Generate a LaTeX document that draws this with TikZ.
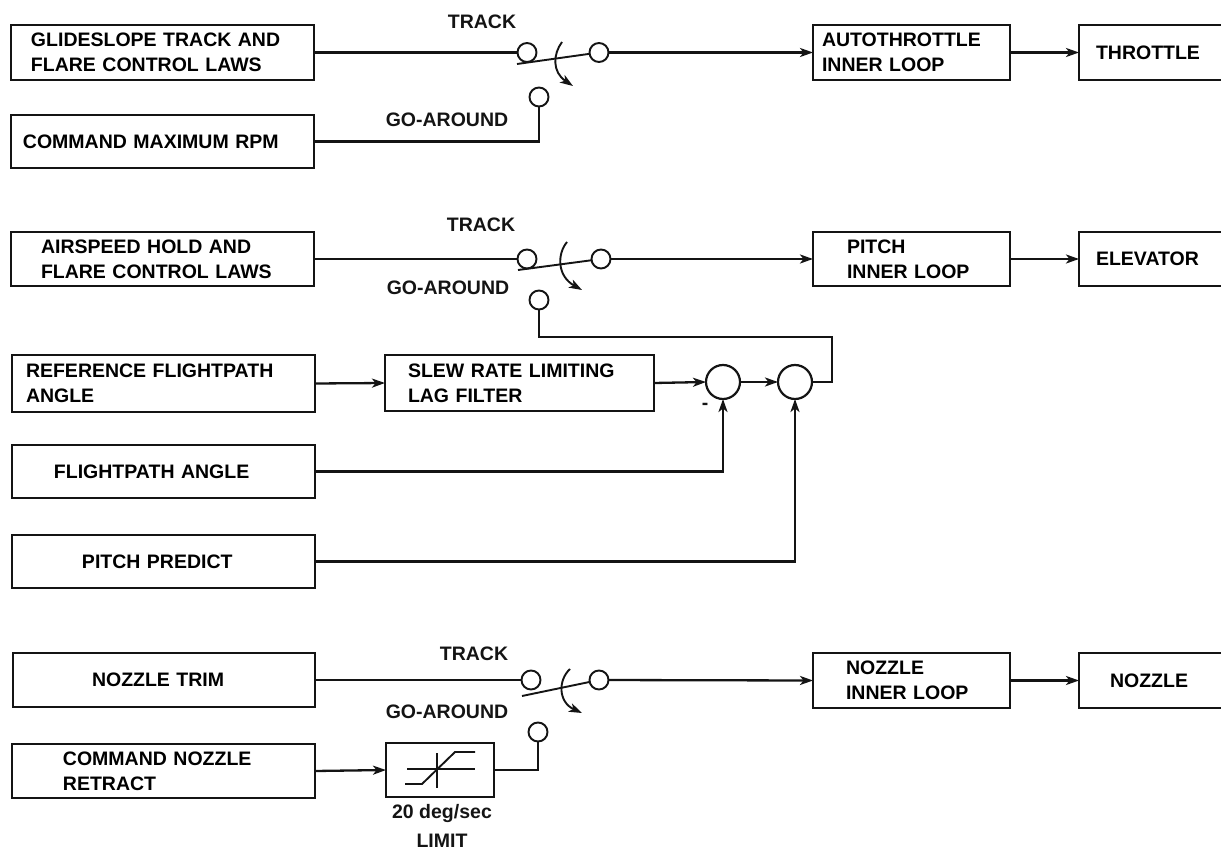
\documentclass[tikz,border=0pt]{standalone}
\usepackage{fontspec}
\setmainfont{Liberation Sans}
\usetikzlibrary{arrows.meta}
\tikzset{
  blk/.style={draw=ink,line width=1.9pt,inner sep=0pt,outer sep=0pt,anchor=north west,font=\lblfont},
  lbl/.style={inner sep=0pt,font=\lblfont,text=ink},
  cont/.style={circle,draw=ink,line width=1.9pt,inner sep=0pt,outer sep=0pt,minimum size=19pt},
  summer/.style={circle,draw=ink,line width=2.2pt,inner sep=0pt,outer sep=0pt,minimum size=34pt},
  wire/.style={draw=ink,line width=2.3pt},
  flow/.style={wire,-{Stealth[length=13pt,width=9pt,inset=3.5pt]}},
  blade/.style={draw=ink,line width=1.9pt},
  swing/.style={draw=ink,line width=1.9pt,-{Stealth[length=13pt,width=9pt,inset=3.5pt]}}
}
\definecolor{ink}{HTML}{141414}
\newcommand\lblfont{\fontsize{19.5}{25}\selectfont\bfseries}
\newcommand\bx[7]{%
  \pgfmathsetmacro\bw{#4-#2}\pgfmathsetmacro\bh{#5-#3}%
  \node[blk,minimum width=\bw pt,minimum height=\bh pt,text width=\bw pt] (#1) at (#2,#3)
    {\leftskip=#6pt\rightskip=0pt plus 1fil\parfillskip=0pt\relax #7\par};}
\begin{document}
\begin{tikzpicture}[x=1pt,y=-1pt]
\useasboundingbox (0,0) rectangle (1221,850);
% --- top group
\bx{glide}{11}{25}{314}{80}{20}{GLIDESLOPE TRACK AND\\FLARE CONTROL LAWS}
\bx{rpm}{11}{115}{314}{168}{12}{COMMAND MAXIMUM RPM}
\bx{auto}{813}{25}{1010}{80}{9}{AUTOTHROTTLE\\INNER LOOP}
\bx{throttle}{1079}{25}{1226}{80}{17}{THROTTLE}
\node[cont] (s1l) at (527,52.5) {};
\node[cont] (s1r) at (599,52.5) {};
\node[cont] (s1g) at (539,97) {};
\coordinate (b1) at (517,64);
\coordinate (t1) at (562,42);
\coordinate (e1) at (573,86);
\coordinate (k1) at (539,141.5);
\node[lbl] (track1) at (482,22) {TRACK};
\node[lbl] (ga1) at (447,120) {GO-AROUND};
\draw[wire] (glide.east) -- (s1l);
\draw[blade] (s1r) -- (b1);
\draw[swing] (t1) .. controls (553,54) and (552,72) .. (e1);
\draw[wire] (rpm.east) -- (k1) -- (s1g);
\draw[flow] (s1r) -- (auto.west);
\draw[flow] (auto.east) -- (throttle.west);
% --- middle group
\bx{air}{11}{232}{314}{286}{30}{AIRSPEED HOLD AND\\FLARE CONTROL LAWS}
\bx{pitchil}{813}{232}{1010}{286}{34}{PITCH\\INNER LOOP}
\bx{elev}{1079}{232}{1226}{286}{17}{ELEVATOR}
\bx{ref}{12}{355}{315}{412}{14}{REFERENCE FLIGHTPATH\\ANGLE}
\bx{slew}{385}{355}{654}{411}{23}{SLEW RATE LIMITING\\LAG FILTER}
\bx{fpa}{12}{445}{315}{498}{42}{FLIGHTPATH ANGLE}
\bx{pp}{12}{535}{315}{588}{70}{PITCH PREDICT}
\node[cont] (s2l) at (527,259) {};
\node[cont] (s2r) at (601,259) {};
\node[cont] (s2g) at (539,300) {};
\coordinate (b2) at (518,270);
\coordinate (t2) at (567,242);
\coordinate (e2) at (582,290);
\node[summer] (sum1) at (723,382) {};
\node[summer] (sum2) at (795,382) {};
\coordinate (k2) at (539,337);
\coordinate (k3) at (832,337);
\coordinate (k4) at (832,382);
\node[lbl] (track2) at (481,225) {TRACK};
\node[lbl] (ga2) at (448,288) {GO-AROUND};
\node[lbl] (minus) at (705,406) {-};
\draw[wire] (air.east) -- (s2l);
\draw[blade] (s2r) -- (b2);
\draw[swing] (t2) .. controls (557,254) and (557,276) .. (e2);
\draw[flow] (s2r) -- (pitchil.west);
\draw[flow] (pitchil.east) -- (elev.west);
\draw[flow] (ref.east) -- (slew.west);
\draw[flow] (slew.east) -- (sum1.west);
\draw[flow] (sum1.east) -- (sum2.west);
\draw[flow] (fpa.east) -| (sum1.south);
\draw[flow] (pp.east) -| (sum2.south);
\draw[wire] (sum2.east) -- (k4) -- (k3) -- (k2) -- (s2g.south);
% --- bottom group
\bx{trim}{13}{653}{315}{707}{79}{NOZZLE TRIM}
\bx{retract}{12}{744}{315}{798}{51}{COMMAND NOZZLE\\RETRACT}
\bx{nozil}{813}{653}{1010}{708}{33}{NOZZLE\\INNER LOOP}
\bx{noz}{1079}{653}{1226}{708}{31}{NOZZLE}
\node[blk,minimum width=108pt,minimum height=54pt] (lim) at (386,743) {};
\node[cont] (s3l) at (531,680) {};
\node[cont] (s3r) at (599,680) {};
\node[cont] (s3g) at (538,732) {};
\coordinate (b3) at (522,696);
\coordinate (t3) at (570,669);
\coordinate (e3) at (582,713);
\coordinate (k5) at (538,770);
\node[lbl] (track3) at (474,654) {TRACK};
\node[lbl] (ga3) at (447,712) {GO-AROUND};
\node[lbl] (rate) at (442,813) {20 deg/sec};
\node[lbl] (limit) at (442,841) {LIMIT};
\draw[wire] (trim.east) -- (s3l);
\draw[blade] (s3r) -- (b3);
\draw[swing] (t3) .. controls (558,680) and (558,702) .. (e3);
\draw[flow] (s3r) -- (nozil.west);
\draw[flow] (nozil.east) -- (noz.west);
\draw[flow] (retract.east) -- (lim.west);
\draw[wire] (lim.east) -- (k5) -- (s3g);
% limiter symbol
\draw[blade] (407,769) -- (475,769);
\draw[blade] (437,753) -- (437,788);
\draw[blade] (405,784) -- (422,784) -- (455,752) -- (475,752);
\end{tikzpicture}
\end{document}
